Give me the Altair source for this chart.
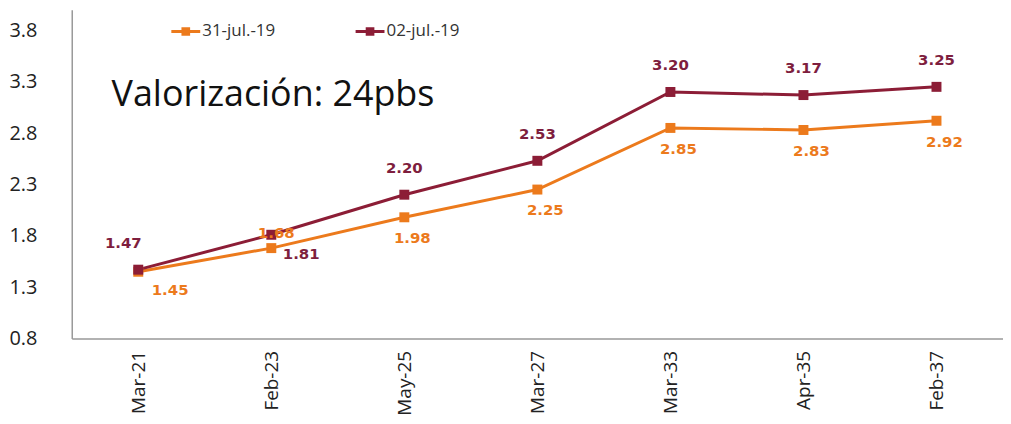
import altair as alt
import pandas as pd

categories = ["Mar-21", "Feb-23", "May-25", "Mar-27", "Mar-33", "Apr-35", "Feb-37"]
series_names = ["31-jul.-19", "02-jul.-19"]
jul31 = [1.45, 1.68, 1.98, 2.25, 2.85, 2.83, 2.92]
jul02 = [1.47, 1.81, 2.20, 2.53, 3.20, 3.17, 3.25]
y_ticks = [0.8, 1.3, 1.8, 2.3, 2.8, 3.3, 3.8]
annotation = "Valorización: 24pbs"

rows = []
for c, v in zip(categories, jul31):
    rows.append({"cat": c, "serie": series_names[0], "val": v})
for c, v in zip(categories, jul02):
    rows.append({"cat": c, "serie": series_names[1], "val": v})
df = pd.DataFrame(rows)

ORANGE = "#EC7A1C"
RED = "#8C1D36"
colors = [ORANGE, RED]

x_enc = alt.X("cat:N", sort=categories, title=None,
              scale=alt.Scale(type="point", padding=0.5),
              axis=alt.Axis(labelAngle=-90, labelFont="Open Sans", labelFontSize=19,
                            labelColor="#222", ticks=False, labelPadding=12,
                            domainColor="#999", domainWidth=1.5))
y_enc = alt.Y("val:Q", title=None,
              scale=alt.Scale(domain=[0.8, 4.0], nice=False, zero=False),
              axis=alt.Axis(values=y_ticks, format=".1f", grid=False, ticks=False,
                            labelFont="Open Sans", labelFontSize=20, labelColor="#222",
                            labelPadding=35, domainColor="#999", domainWidth=1.5))
color_scale = alt.Scale(domain=series_names, range=colors)

base = alt.Chart(df).encode(x=x_enc, y=y_enc)

leg_path = "M-1,-0.1L1,-0.1L1,0.1L-1,0.1Z M-0.3,-0.3L0.3,-0.3L0.3,0.3L-0.3,0.3Z"

line_orange = base.mark_line(strokeWidth=3, color=ORANGE).transform_filter(
    alt.datum.serie == series_names[0])
line_red = base.mark_line(strokeWidth=3, color=RED).transform_filter(
    alt.datum.serie == series_names[1])

points = base.mark_point(filled=True, shape="square", size=100, opacity=1).encode(
    color=alt.Color("serie:N", scale=color_scale, sort=series_names,
                    legend=alt.Legend(title=None, orient="none", legendX=100, legendY=7,
                                      direction="horizontal", columns=2, columnPadding=80,
                                      symbolType=leg_path, symbolSize=841,
                                      symbolStrokeWidth=0, symbolOpacity=1,
                                      labelFont="Open Sans",
                                      labelFontSize=17, labelColor="#333", labelOffset=2)),
)

def labels(serie, color, dx, dy, include=None, exclude=None):
    ch = base.mark_text(font="DejaVu Sans", fontWeight="bold", fontSize=15,
                        color=color, dx=dx, dy=dy, baseline="middle").encode(
        text=alt.Text("val:Q", format=".2f"))
    ch = ch.transform_filter(alt.datum.serie == serie)
    if include is not None:
        ch = ch.transform_filter(alt.FieldOneOfPredicate(field="cat", oneOf=include))
    if exclude is not None:
        ch = ch.transform_filter({"not": alt.FieldOneOfPredicate(field="cat", oneOf=exclude)})
    return ch

RED_TXT = "#7E1E3E"
ORANGE_TXT = "#EC7A1C"
lbl = [
    labels(series_names[1], RED_TXT, 0, -27, exclude=["Mar-21", "Feb-23"]),
    labels(series_names[1], RED_TXT, -15, -27, include=["Mar-21"]),
    labels(series_names[1], RED_TXT, 30, 19, include=["Feb-23"]),
    labels(series_names[0], ORANGE_TXT, 8, 21, exclude=["Mar-21", "Feb-23"]),
    labels(series_names[0], ORANGE_TXT, 32, 18, include=["Mar-21"]),
    labels(series_names[0], ORANGE_TXT, 5, -15, include=["Feb-23"]),
]

note = alt.Chart(pd.DataFrame({"t": [annotation]})).mark_text(
    font="Open Sans", fontSize=36, color="#111", align="left", baseline="middle"
).encode(text="t:N", x=alt.value(40), y=alt.value(86))

chart = alt.layer(line_orange, line_red, points, *lbl, note).properties(
    width=935, height=330, padding={"left": 0, "right": 0, "top": 1, "bottom": 0}
).configure(background="white").configure_view(stroke=None)

chart.save("out.html", embed_options={"renderer": "svg", "actions": False})
